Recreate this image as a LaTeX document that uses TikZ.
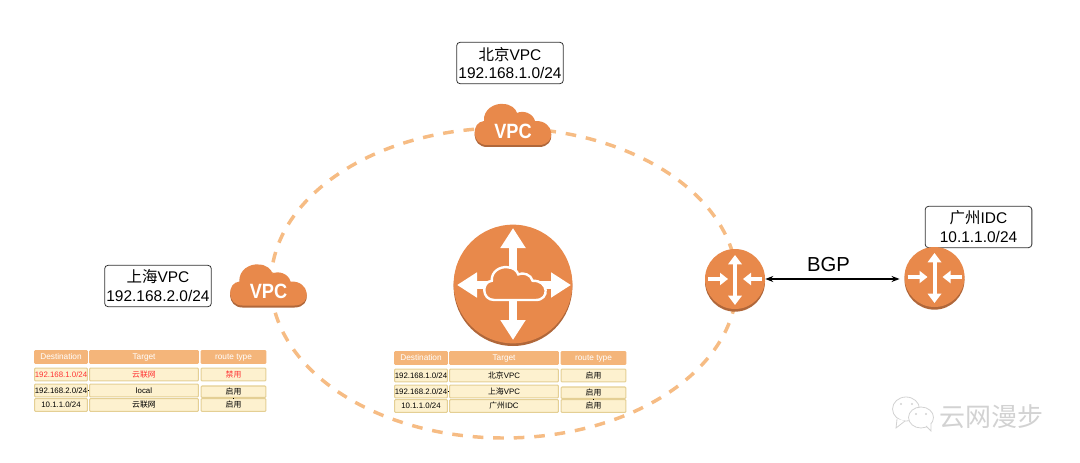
\documentclass[tikz,border=0pt]{standalone}
\usepackage{graphicx}
\usepackage{fontspec}
\setmainfont{Liberation Sans}
\newfontfamily\cjk{Noto Sans CJK SC}
\usetikzlibrary{arrows.meta,shadows}

\definecolor{awsorange}{HTML}{E8894B}
\definecolor{awsdark}{HTML}{B0673A}
\definecolor{ringcolor}{HTML}{F6BC84}
\definecolor{headcolor}{HTML}{F4B57A}
\definecolor{cellfill}{HTML}{FDF1CF}
\definecolor{cellline}{HTML}{E4CF94}
\definecolor{markgray}{HTML}{D2D2D2}

\newcommand{\cloudpath}{(-26,20) .. controls (-42,20) and (-42,-3) .. (-29,-4)
    .. controls (-30,-16) and (-18,-22) .. (-10,-21)
    .. controls (-2,-21) and (3,-16) .. (4,-12)
    .. controls (10,-15) and (20,-12) .. (22,-4)
    .. controls (42,-5) and (44,20) .. (26,20) -- cycle}
\newcommand{\vpctext}{\scalebox{0.88}[1]{VPC}}

\tikzset{
    labelbox/.style={draw=black!80, fill=white, rounded corners=2.5pt, line width=0.6pt,
        minimum width=80pt, minimum height=31pt, inner sep=0pt, align=center,
        font=\fontsize{11.6}{14.2}\selectfont},
    routerface/.style={circle, fill=awsorange, inner sep=0pt,
        drop shadow={shadow xshift=0pt, shadow yshift=-2pt, fill=awsdark, opacity=1}},
    cell/.style={draw=cellline, fill=cellfill, line width=0.8pt, rounded corners=0.7pt,
        minimum height=9.6pt, inner sep=0pt, text height=4.3pt, text depth=0.3pt,
        font=\fontsize{5.9}{6}\selectfont},
    headcell/.style={cell, draw=headcolor, fill=headcolor, text=white,
        font=\fontsize{6.2}{6}\selectfont},
    destcol/.style={minimum width=39.5pt},
    targetcol/.style={minimum width=81.5pt},
    typecol/.style={minimum width=48.5pt},
    cloudtext/.style={text=white, inner sep=0pt, font=\fontsize{15.5}{15.5}\bfseries\selectfont},
    bubble/.style={draw=markgray, fill=white, line width=0.6pt},
    vpccloud/.pic={
        \fill[awsdark] [yshift=-1.5pt] \cloudpath;
        \fill[awsorange] \cloudpath;
    },
    bigarrows/.pic={
        \draw[white, line width=6pt, {Triangle[length=15pt,width=18pt]}-{Triangle[length=15pt,width=18pt]}] (-56,0) -- (58,0);
        \draw[white, line width=6pt, {Triangle[length=15pt,width=18pt]}-{Triangle[length=15pt,width=18pt]}] (0,-57) -- (0,55);
        \draw[white, fill=awsorange, line width=1.8pt, shift={(2,-1)}, scale=0.8] \cloudpath;
    },
    smallarrows/.pic={
        \draw[white, line width=3pt, {Triangle[length=7pt,width=10pt]}-{Triangle[length=7pt,width=10pt]}] (0,-24) -- (0,26);
        \draw[white, line width=2.5pt, -{Triangle[length=6pt,width=9pt]}] (-27,0) -- (-7,0);
        \draw[white, line width=2.5pt, -{Triangle[length=6pt,width=9pt]}] (27,0) -- (8,0);
    },
}

% first row colour, three targets, first route type
\newcommand{\routetable}[5]{
    \node[headcell, destcol] (head1) at (61,357) {Destination};
    \node[headcell, targetcol] (head2) at (144,357) {Target};
    \node[headcell, typecol] (head3) at (233.5,357) {route type};
    \node[cell, destcol, text=#1] (dest1) at (61,374.5) {192.168.1.0/24};
    \node[cell, targetcol, text=#1] (target1) at (144,374.5) {#2};
    \node[cell, typecol, text=#1] (type1) at (233.5,374.5) {{\cjk #5}};
    \node[cell, destcol] (dest2) at (61,390.5) {192.168.2.0/24};
    \node[cell, targetcol] (target2) at (144,390.5) {#3};
    \node[cell, typecol, minimum height=8.6pt] (type2) at (233.5,391.7) {{\cjk 启用}};
    \node[cell, destcol] (dest3) at (61,405) {10.1.1.0/24};
    \node[cell, targetcol] (target3) at (144,405) {#4};
    \node[cell, typecol] (type3) at (233.5,405) {{\cjk 启用}};
    \draw[line width=0.8pt] (type2.south) -- (type3.north);
    \draw[line width=0.6pt] (dest2.east) -- (target2.west);
}

\begin{document}
\begin{tikzpicture}[x=0.75pt, y=-0.75pt]
    \useasboundingbox (0,0) rectangle (1080,463);

    % the ring behind the icons
    \draw[ringcolor, line width=2.6pt, dash pattern=on 8pt off 7.4pt] (504,283) ellipse (233 and 155);

    % vpc clouds
    \pic at (513,125) {vpccloud};
    \node[cloudtext] (bjvpc) at (513,131) {\vpctext};
    \pic at (268.5,285.5) {vpccloud};
    \node[cloudtext] (shvpc) at (268.5,291.5) {\vpctext};

    \node[labelbox] (bjlabel) at (510,63) {{\cjk 北京}VPC\\192.168.1.0/24};
    \node[labelbox] (shlabel) at (158,286) {{\cjk 上海}VPC\\192.168.2.0/24};
    \node[labelbox] (gzlabel) at (978.5,227) {{\cjk 广州}IDC\\10.1.1.0/24};

    % routers
    \node[routerface, minimum size=89pt] (ccn) at (513,284) {};
    \pic at (513,285) {bigarrows};
    \node[routerface, minimum size=45pt] (ccngw) at (735,279) {};
    \pic at (735,279) {smallarrows};
    \node[routerface, minimum size=45pt] (idcgw) at (934.5,277) {};
    \pic at (934.5,277) {smallarrows};

    \draw[{Stealth[length=6pt]}-{Stealth[length=6pt]}, line width=1pt, shorten >=3.5pt]
        (ccngw.east) -- (ccngw.east -| idcgw.west);
    \node[font=\fontsize{15.2}{15}\selectfont, inner sep=0pt] (bgp) at (828.5,265) {BGP};

    % route tables
    \begin{scope}[name prefix=sh-]
        \routetable{red!80}{{\cjk 云联网}}{local}{{\cjk 云联网}}{禁用}
    \end{scope}
    \begin{scope}[shift={(360,1)}, name prefix=bj-]
        \routetable{black}{{\cjk 北京}VPC}{{\cjk 上海}VPC}{{\cjk 广州}IDC}{启用}
    \end{scope}

    % watermark
    \draw[bubble] (906,409) ellipse (13.5 and 12);
    \draw[bubble] (897,419) -- (896,428) -- (905,421);
    \draw[bubble] (921,417.5) ellipse (12.5 and 10.5);
    \draw[bubble] (926,426) -- (931,431) -- (931,423);
    \fill[markgray] (901,404) circle (1.2) (912,404) circle (1.2) (916,414) circle (1.2) (926,414) circle (1.2);
    \node[text=markgray, font=\cjk\fontsize{19.5}{20}\selectfont, inner sep=0pt] (mark) at (991,417) {云网漫步};
\end{tikzpicture}
\end{document}
